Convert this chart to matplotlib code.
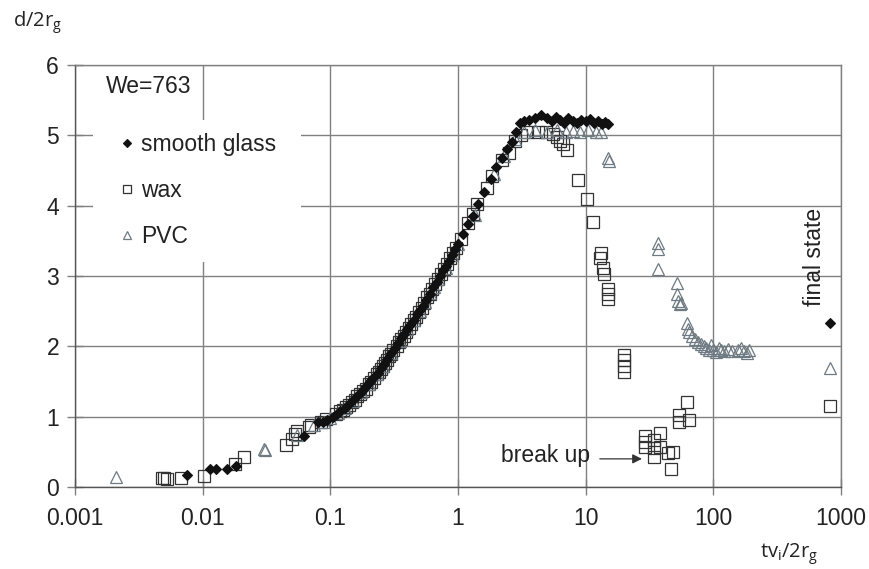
import numpy as np
import matplotlib
matplotlib.use('Agg')
import matplotlib.pyplot as plt
from matplotlib.patches import Rectangle

plt.rcParams['font.family'] = ['Liberation Sans', 'DejaVu Sans']

# smooth glass (filled diamonds)
glass_x = [0.0075, 0.0115, 0.0128, 0.0155, 0.0183, 0.062, 0.080, 0.088, 0.095,
           0.105, 0.112, 0.12, 0.13, 0.14, 0.15, 0.16, 0.17, 0.18, 0.19, 0.20,
           0.21, 0.22, 0.235, 0.25, 0.265, 0.28, 0.30, 0.32, 0.34, 0.36, 0.38,
           0.40, 0.42, 0.45, 0.48, 0.50, 0.53, 0.56, 0.60, 0.64, 0.68, 0.72,
           0.76, 0.80, 0.85, 0.90, 0.95, 1.0, 1.1, 1.2, 1.3, 1.44, 1.6, 1.8,
           2.0, 2.2, 2.4, 2.63, 2.85, 3.06, 3.3, 3.6, 4.0, 4.5, 5.0, 5.4, 5.9,
           6.3, 6.8, 7.3, 7.9, 8.5, 9.2, 10.0, 10.8, 11.6, 12.5, 13.4, 14.2,
           15.0, 820]
glass_y = [0.17, 0.25, 0.25, 0.26, 0.30, 0.73, 0.92, 0.93, 0.95,
           1.00, 1.04, 1.08, 1.13, 1.18, 1.23, 1.28, 1.33, 1.38, 1.43, 1.48,
           1.52, 1.57, 1.62, 1.69, 1.75, 1.82, 1.90, 1.98, 2.05, 2.12, 2.18,
           2.25, 2.30, 2.38, 2.46, 2.52, 2.58, 2.66, 2.75, 2.84, 2.92, 3.00,
           3.08, 3.14, 3.22, 3.30, 3.38, 3.46, 3.60, 3.74, 3.86, 4.02, 4.20, 4.38,
           4.55, 4.68, 4.80, 4.90, 5.05, 5.17, 5.20, 5.22, 5.24, 5.29, 5.24, 5.20, 5.26,
           5.22, 5.18, 5.24, 5.20, 5.17, 5.22, 5.20, 5.23, 5.18, 5.20, 5.16, 5.19,
           5.16, 2.33]

# wax (open squares)
wax_x = [0.0048, 0.0050, 0.0053, 0.0068, 0.0102, 0.018, 0.021, 0.045, 0.050,
         0.053, 0.055, 0.068, 0.070, 0.085, 0.092, 0.11, 0.118, 0.125, 0.133,
         0.14, 0.148, 0.155, 0.163, 0.17, 0.18, 0.19, 0.20, 0.21, 0.22, 0.23,
         0.24, 0.25, 0.26, 0.27, 0.28, 0.29, 0.30, 0.31, 0.33, 0.345, 0.36,
         0.375, 0.39, 0.41, 0.43, 0.45, 0.47, 0.495, 0.52, 0.545, 0.57, 0.60,
         0.63, 0.66, 0.70, 0.74, 0.78, 0.82, 0.87, 0.92, 0.96, 1.05, 1.2, 1.3,
         1.42, 1.7, 1.85, 2.2, 2.5, 2.8, 3.1, 3.5, 4.2, 4.9, 5.5, 6.0, 6.3,
         6.7, 7.1, 8.75, 10.2, 11.5, 13.0, 13.3, 13.7, 13.8, 15.0, 15.0, 15.0,
         20.0, 20.0, 20.0, 20.0, 29.2, 29.2, 29.2, 34.6, 34.6, 34.6, 38.2,
         38.2, 44.4, 48.0, 47.0, 53.8, 53.8, 64.2, 62.5, 820]
wax_y = [0.13, 0.13, 0.12, 0.13, 0.16, 0.33, 0.43, 0.60, 0.68,
         0.76, 0.79, 0.85, 0.88, 0.92, 0.97, 1.04, 1.08, 1.10, 1.14,
         1.16, 1.21, 1.24, 1.29, 1.32, 1.37, 1.40, 1.46, 1.50, 1.55, 1.60,
         1.63, 1.68, 1.72, 1.76, 1.80, 1.86, 1.89, 1.95, 2.00, 2.06, 2.10,
         2.15, 2.20, 2.26, 2.32, 2.37, 2.42, 2.49, 2.55, 2.62, 2.70, 2.75,
         2.82, 2.88, 2.96, 3.03, 3.10, 3.17, 3.26, 3.33, 3.40, 3.52, 3.75, 3.88,
         4.02, 4.25, 4.42, 4.65, 4.75, 4.92, 5.00, 5.05, 5.05, 5.05, 5.02, 4.97, 4.92,
         4.87, 4.79, 4.37, 4.09, 3.77, 3.25, 3.33, 3.12, 3.03, 2.82, 2.75, 2.68,
         1.88, 1.80, 1.72, 1.64, 0.72, 0.64, 0.57, 0.67, 0.55, 0.43, 0.77,
         0.57, 0.48, 0.50, 0.26, 1.02, 0.93, 0.95, 1.21, 1.15]

# PVC (open triangles)
pvc_x = [0.0021, 0.030, 0.031, 0.055, 0.075, 0.09, 0.10, 0.115, 0.13, 0.15,
         0.175, 0.2, 0.23, 0.26, 0.3, 0.35, 0.4, 0.45, 0.5, 0.55, 0.6, 0.65,
         0.7, 0.8, 0.9, 1.0, 1.36, 1.9, 2.3, 2.8, 3.3, 4.0, 5.0, 6.0, 7.0,
         8.0, 9.1, 10.5, 12.0, 13.3, 15.0, 15.2, 37.1, 37.1, 37.1, 51.6, 52.0,
         53.3, 55.0, 56.0, 61.8, 63.0, 65.0, 68.0, 72.0, 76.0, 80.0, 84.0,
         88.0, 92.0, 96.0, 100, 105, 110, 115, 122, 130, 140, 155, 165, 175,
         185, 190, 815]
pvc_y = [0.14, 0.54, 0.52, 0.74, 0.88, 0.92, 0.98, 1.05, 1.12, 1.22,
         1.35, 1.47, 1.60, 1.72, 1.90, 2.08, 2.24, 2.38, 2.50, 2.63, 2.76, 2.85,
         2.96, 3.12, 3.30, 3.45, 3.87, 4.45, 4.70, 4.95, 5.05, 5.07, 5.05, 5.08, 5.05,
         5.06, 5.05, 5.07, 5.05, 5.05, 4.68, 4.64, 3.47, 3.38, 3.10, 2.90, 2.75,
         2.64, 2.60, 2.62, 2.33, 2.25, 2.20, 2.15, 2.10, 2.06, 2.03, 2.00,
         1.98, 1.95, 2.02, 1.95, 1.92, 1.98, 1.95, 1.93, 1.96, 1.93, 1.95, 1.97, 1.93,
         1.90, 1.95, 1.69]

x_ticks = [0.001, 0.01, 0.1, 1, 10, 100, 1000]
x_tick_labels = ['0.001', '0.01', '0.1', '1', '10', '100', '1000']
y_ticks = [0, 1, 2, 3, 4, 5, 6]

grid_col = '#808080'
txt_col = '#222222'

fig = plt.figure(figsize=(8.7, 5.69), dpi=100)
ax = fig.add_axes([75 / 870, 82 / 569, 766 / 870, 422 / 569])
ax.set_xscale('log')
ax.set_xlim(0.001, 1000)
ax.set_ylim(0, 6)
ax.set_axisbelow(True)
ax.grid(True, which='major', color=grid_col, lw=1.0)
ax.minorticks_off()
ax.set_xticks(x_ticks)
ax.set_xticklabels(x_tick_labels)
ax.set_yticks(y_ticks)
ax.tick_params(direction='inout', length=11, width=1.0, color=grid_col,
               labelsize=16.5, labelcolor=txt_col, pad=6)
ax.tick_params(axis='x', pad=9)
for s in ['top', 'right']:
    ax.spines[s].set_color(grid_col)
    ax.spines[s].set_linewidth(1.0)
for s in ['left', 'bottom']:
    ax.spines[s].set_color('#555555')
    ax.spines[s].set_linewidth(1.0)

# white box behind the legend
ax.add_patch(Rectangle((0.0235, 0.533), 0.271, 0.337, transform=ax.transAxes,
                       facecolor='white', edgecolor='none', zorder=1))

h1, = ax.plot(glass_x, glass_y, ls='none', marker='D', ms=5.5, mfc='#111111',
              mec='#111111', mew=0.8, zorder=4, label='smooth glass')
h2, = ax.plot(wax_x, wax_y, ls='none', marker='s', ms=8, mfc='none',
              mec='#333333', mew=0.9, zorder=3, label='wax')
h3, = ax.plot(pvc_x, pvc_y, ls='none', marker='^', ms=8.5, mfc='none',
              mec='#6d7a82', mew=0.9, zorder=3, label='PVC')

ax.text(0.04, 0.95, 'We=763', transform=ax.transAxes, fontsize=16.5,
        color=txt_col, va='center', ha='left')
leg = ax.legend(handles=[h1, h2, h3], loc='upper left',
                bbox_to_anchor=(0.047, 0.86), frameon=False, fontsize=16.5,
                handlelength=0.6, handletextpad=0.3, labelspacing=1.0,
                borderaxespad=0, labelcolor=txt_col)
for hnd in leg.legend_handles:
    hnd.set_markersize(hnd.get_markersize() * 0.7)

ax.annotate('', xy=(27.6, 0.40), xytext=(12.9, 0.40),
            arrowprops=dict(arrowstyle='-|>', color='#333333', lw=0.9,
                            mutation_scale=14, shrinkA=0, shrinkB=0))
ax.text(10.8, 0.445, 'break up', fontsize=16.5, color=txt_col, ha='right',
        va='center')
ax.text(620, 3.27, 'final state', fontsize=16.5, color=txt_col, rotation=90,
        ha='center', va='center')

fig.text(13 / 870, 1 - 27 / 569, r'd/2r$_\mathregular{g}$', fontsize=14.5,
         color=txt_col, family='Open Sans', ha='left', va='baseline')
fig.text(760 / 870, 1 - 558 / 569, r'tv$_\mathregular{i}$/2r$_\mathregular{g}$',
         fontsize=14.5, color=txt_col, family='Open Sans', ha='left',
         va='baseline')

fig.savefig('out.png', dpi=100)
